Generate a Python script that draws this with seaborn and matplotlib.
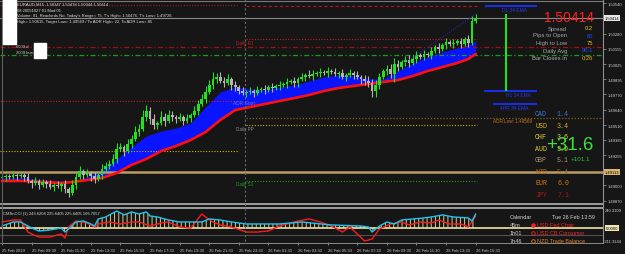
import seaborn as sns
import matplotlib.pyplot as plt
import matplotlib.patches as patches
import numpy as np
import pandas as pd

BG = '#161616'
sns.set_theme(style='dark', rc={'axes.facecolor': BG, 'figure.facecolor': BG})
plt.rcParams['font.family'] = ['Liberation Sans', 'DejaVu Sans']
plt.rcParams['hatch.linewidth'] = 0.7

# ---- M15 candles, 25 Feb 07:30 -> 26 Feb 15:30 ----
first_open = 1.49063
close = [1.49072, 1.49080, 1.49072, 1.49089, 1.49080, 1.49089, 1.49072, 1.49038, 1.49021, 1.49038,
         1.49004, 1.49029, 1.49013, 1.48987, 1.49004, 1.48996, 1.49013, 1.48970, 1.48937, 1.49004,
         1.49072, 1.49122, 1.49089, 1.49106, 1.49080, 1.49055, 1.49089, 1.49139, 1.49165, 1.49181,
         1.49224, 1.49308, 1.49325, 1.49291, 1.49350, 1.49392, 1.49451, 1.49477, 1.49578, 1.49629,
         1.49561, 1.49511, 1.49528, 1.49578, 1.49544, 1.49595, 1.49578, 1.49561, 1.49578, 1.49544,
         1.49570, 1.49595, 1.49629, 1.49688, 1.49730, 1.49789, 1.49848, 1.49899, 1.49916, 1.49882,
         1.49865, 1.49899, 1.49848, 1.49831, 1.49798, 1.49781, 1.49789, 1.49798, 1.49781, 1.49806,
         1.49814, 1.49806, 1.49831, 1.49823, 1.49840, 1.49848, 1.49857, 1.49874, 1.49882, 1.49865,
         1.49899, 1.49916, 1.49933, 1.49924, 1.49941, 1.49949, 1.49958, 1.49949, 1.49966, 1.49958,
         1.49941, 1.49949, 1.49916, 1.49933, 1.49949, 1.49933, 1.49916, 1.49899, 1.49882, 1.49865,
         1.49798, 1.49848, 1.49916, 1.49966, 1.49983, 1.49941, 1.50025, 1.50000, 1.50042, 1.50059,
         1.50034, 1.50068, 1.50101, 1.50085, 1.50110, 1.50101, 1.50135, 1.50169, 1.50152, 1.50186,
         1.50211, 1.50194, 1.50203, 1.50219, 1.50194, 1.50236, 1.50203, 1.50389, 1.50414]
up_wick = [3, 2, 2, 3, 2, 2, 2, 3, 2, 3, 2, 3, 2, 3, 2, 3, 2, 3, 2, 4,
           3, 4, 2, 3, 2, 3, 2, 4, 3, 3,
           4, 5, 3, 2, 4, 3, 5, 4, 6, 5,
           3, 4, 2, 5, 3, 4, 3, 2, 3, 2,
           3, 2, 4, 3, 4, 5, 4, 6, 3, 4,
           3, 4, 2, 3, 2, 3, 2, 3, 2, 3,
           2, 3, 2, 3, 2, 3, 2, 3, 2, 3,
           2, 3, 2, 4, 3, 2, 3, 2, 3, 2,
           3, 2, 3, 2, 3, 2, 3, 2, 3, 4,
           3, 4, 3, 2, 3, 4, 5, 3, 2, 3,
           4, 3, 3, 2, 3, 2, 3, 2, 3, 2,
           3, 2, 3, 2, 3, 2, 3, 4, 3]
dn_wick = [2, 3, 2, 2, 3, 2, 3, 2, 4, 2, 3, 2, 3, 2, 3, 2, 4, 3, 3, 2,
           3, 2, 3, 2, 4, 3, 2, 3, 2, 3,
           2, 3, 2, 4, 2, 3, 2, 3, 2, 3,
           4, 3, 3, 2, 4, 2, 3, 3, 2, 3,
           2, 3, 2, 3, 2, 3, 2, 3, 3, 2,
           3, 2, 4, 3, 3, 2, 3, 2, 3, 2,
           2, 3, 2, 3, 2, 3, 2, 3, 2, 3,
           3, 2, 3, 2, 3, 2, 3, 2, 3, 2,
           2, 3, 2, 3, 2, 3, 2, 4, 3, 3,
           5, 5, 3, 2, 3, 3, 7, 3, 2, 3,
           3, 2, 3, 2, 3, 2, 3, 2, 3, 2,
           3, 2, 3, 2, 3, 2, 3, 2, 2]

# moving average band (blue fill between fast and slow, red slow line)
ma_bars = [0, 6, 11, 16, 19, 23, 27, 31, 35, 39, 43, 47, 51, 55, 59, 63, 67, 71, 75, 79,
           83, 87, 91, 95, 99, 103, 107, 111, 115, 119, 123, 126, 128]
ma_fast = [1.49063, 1.49063, 1.49046, 1.49038, 1.49038, 1.49072, 1.49131, 1.49224, 1.49325, 1.49418,
           1.49460, 1.49485, 1.49528, 1.49662, 1.49789, 1.49831, 1.49814, 1.49806, 1.49831, 1.49848,
           1.49882, 1.49916, 1.49933, 1.49924, 1.49899, 1.49899, 1.49966, 1.50034, 1.50085, 1.50127,
           1.50160, 1.50186, 1.50219]
ma_slow = [1.49038, 1.49038, 1.49029, 1.49021, 1.49029, 1.49046, 1.49063, 1.49106, 1.49173, 1.49224,
           1.49291, 1.49333, 1.49384, 1.49451, 1.49553, 1.49637, 1.49662, 1.49688, 1.49713, 1.49738,
           1.49764, 1.49798, 1.49823, 1.49840, 1.49857, 1.49874, 1.49890, 1.49924, 1.49966, 1.50000,
           1.50034, 1.50068, 1.50110]

# pivot / ADR levels
bid = 1.50414
prev_r2, r2 = 1.50523, 1.50515
r1 = 1.50236
red_level, green_level = 1.50169, 1.50101
prev_r1 = 1.49713
adr_low = 1.49570
pp, prev_pp = 1.49511, 1.49291
tan_level = 1.49114
s1 = 1.49038
ema_d1, ema_h1, ema_h4 = 1.50515, 1.49798, 1.49688
trend_bars = [109, 128]
trend_price = [1.50034, 1.50447]

price_ticks = [1.50540, 1.50280, 1.50155, 1.50025, 1.49895, 1.49770, 1.49640, 1.49510,
               1.49385, 1.49255, 1.49000, 1.48870]

# CCI sub-window
cci_bars = [0, 3, 5, 7, 8, 10, 13, 16, 17, 18, 20, 22, 24, 25, 26, 28, 31, 33, 35, 37, 39, 40, 42, 44,
            45, 48, 52, 54, 56, 59, 62, 66, 70, 75, 81, 89, 97, 99, 100, 102, 104, 106, 108, 111,
            114, 116, 119, 122, 126, 127, 128]
cci_main = [25, 76, 76, 25, 0, -38, -25, 0, -51, -13, 76, 89, 51, 25, 114, 139, 215, 165, 203, 177,
            203, 152, 139, 114, 101, 76, 76, 76, 114, 101, 76, 51, 51, 51, 76, 38, 25, 13, -51, 25,
            76, 51, 101, 114, 127, 139, 165, 139, 127, 89, 177]
sig_bars = [0, 3, 5, 7, 8, 10, 13, 16, 17, 18, 20, 23, 25, 26, 29, 32, 35, 37, 40, 43, 45, 48, 51,
            54, 55, 57, 59, 62, 66, 69, 72, 75, 80, 83, 86, 89, 92, 94, 96, 98, 100, 102, 105, 108,
            110, 113, 116, 118, 121, 124, 126, 128]
cci_sig = [76, 101, 101, -51, -76, -114, -114, -76, -127, 13, 89, 63, 13, 51, 76, 51, 76, 76, 25, 63,
           76, 13, 0, 177, 139, 76, 38, 13, -51, -51, -38, 25, 89, 114, 76, 25, -51, 13, -76, -165,
           -139, -13, 51, 76, 38, 76, 63, 101, 51, 51, 13, 152]

time_bars = list(range(0, 129, 8))
time_labels = ['25 Feb 2019', '25 Feb 09:30', '25 Feb 11:30', '25 Feb 13:30', '25 Feb 15:30',
               '25 Feb 17:30', '25 Feb 19:30', '25 Feb 21:30', '25 Feb 23:30', '26 Feb 01:30',
               '26 Feb 03:30', '26 Feb 05:30', '26 Feb 07:30', '26 Feb 09:30', '26 Feb 11:30',
               '26 Feb 13:30', '26 Feb 15:30']

df = pd.DataFrame({'close': close, 'up': up_wick, 'dn': dn_wick})
df['open'] = [first_open] + close[:-1]
df['high'] = df[['open', 'close']].max(axis=1) + df['up'] / 10000
df['low'] = df[['open', 'close']].min(axis=1) - df['dn'] / 10000
df['bar'] = np.arange(len(df))

W, H = 625, 255
def frac(x0, y0, x1, y1):
    return [x0 / W, 1 - y1 / H, (x1 - x0) / W, (y1 - y0) / H]

fig = plt.figure(figsize=(6.25, 2.55), dpi=100)
ax = fig.add_axes(frac(0, 0, 603, 203))
ax2 = fig.add_axes(frac(0, 210, 603, 243))
ov = fig.add_axes([0, 0, 1, 1], zorder=10)
ov.set_xlim(0, W)
ov.set_ylim(H, 0)
ov.axis('off')

XL = (-0.54, 162.4)

# ---- main chart ----
ax.set_facecolor(BG)
ax.fill_between(ma_bars, ma_slow, ma_fast, color='#0a14ff', lw=0, zorder=1)
sns.lineplot(x=ma_bars, y=ma_slow, color='#ff1010', lw=1.9, ax=ax, zorder=3, sort=False)

up = df['close'] >= df['open']
for mask, col in [(up, '#22e022'), (~up, '#b4b4b4')]:
    d = df[mask]
    ax.vlines(d['bar'], d['low'], d['high'], color=col, lw=0.8, zorder=4)
    h = (d['close'] - d['open']).abs().clip(lower=0.00002)
    ax.bar(d['bar'], h, bottom=d[['open', 'close']].min(axis=1), width=0.74,
           color=col, lw=0, zorder=5)

dot = (0, (1, 1.5))
ax.hlines(prev_r2, XL[0], 63.8, color='#b01818', lw=0.8, ls=dot, zorder=2)
ax.hlines(r2, 65.8, 128.3, color='#b01818', lw=0.8, ls=(0, (3, 2)), zorder=2)
ax.axhline(bid, color='#8a8a8a', lw=0.8, zorder=2)
ax.hlines(r1, 65.8, 128.3, color='#c81c1c', lw=0.8, ls=dot, zorder=2)
ax.axhline(red_level, color='#a01010', lw=0.9, ls=(0, (4, 2, 1, 2)), zorder=2)
ax.axhline(green_level, color='#1c9a1c', lw=0.9, ls=(0, (4, 2, 1, 2)), zorder=2)
ax.hlines(prev_r1, XL[0], 63.8, color='#c81c1c', lw=0.8, ls=dot, zorder=2)
ax.hlines(adr_low, 65.8, XL[1], color='#8a5a24', lw=0.9, ls=dot, zorder=2)
ax.hlines(pp, 65.8, 128.3, color='#c8b400', lw=0.8, ls=dot, zorder=2)
ax.hlines(prev_pp, XL[0], 63.8, color='#c8b400', lw=0.8, ls=dot, zorder=2)
ax.axhline(tan_level, color='#b89c64', lw=1.8, zorder=2)
ax.hlines(s1, 65.8, 128.3, color='#1c9a1c', lw=0.8, ls=dot, zorder=2)
ax.plot(trend_bars, trend_price, color='#2030d0', lw=0.7, ls=(0, (1, 1.5)), zorder=6)

ax.hlines(ema_d1, 130.5, 144.6, color='#1830ff', lw=1.3, zorder=2)
ax.hlines(ema_h1, 130.3, 144.6, color='#1830ff', lw=1.3, zorder=2)
ax.hlines(ema_h4, 132.7, 144.6, color='#1830ff', lw=1.3, zorder=2)
ax.vlines(136.2, ema_h1, 1.50447, color='#20e020', lw=1.5, zorder=3)

ax.set_xlim(*XL)
ax.set_ylim(1.50574 - 203 * 0.0000844, 1.50574)
for s in ax.spines.values():
    s.set_visible(False)
ax.set_xticks([])
ax.set_yticks(price_ticks)
ax.set_yticklabels(['%.5f' % p for p in price_ticks])
ax.tick_params(axis='y', left=False, right=True, labelleft=False, labelright=True,
               length=2, width=0.5, color='#a0a0a0', labelsize=3, labelcolor='#d0d0d0', pad=1.5)
ax.set_xlabel('')
ax.set_ylabel('')

# ---- CCI window ----
ax2.set_facecolor(BG)
ax2.fill_between(cci_bars, 0, cci_main, facecolor='none', edgecolor='#d8c890',
                 hatch='||||', lw=0, zorder=1)
ax2.axhline(0, color='#f0e4a8', lw=1.2, zorder=2)
ax2.axhline(-89, color='#505050', lw=0.8, zorder=1)
sns.lineplot(x=sig_bars, y=cci_sig, color='#ff1a1a', lw=1.0, ax=ax2, zorder=3, sort=False)
sns.lineplot(x=cci_bars, y=cci_main, color='#1ec4f0', lw=1.0, ax=ax2, zorder=4, sort=False)
ax2.set_xlim(*XL)
ax2.set_ylim(-177, 240)
for s in ax2.spines.values():
    s.set_visible(False)
ax2.set_yticks([])
ax2.set_xticks(time_bars)
ax2.set_xticklabels(time_labels, ha='left')
ax2.tick_params(axis='x', bottom=True, length=2, width=0.5, color='#a0a0a0',
                labelsize=3, labelcolor='#c8c8c8', pad=2)
ax2.set_xlabel('')
ax2.set_ylabel('')

# ---- frame lines & overlays (pixel space) ----
ov.plot([0, 603], [2, 2], color='#7a7a7a', lw=0.8)
ov.plot([0, 603], [205, 205], color='#a8a8a8', lw=1.3)
ov.plot([0, 603], [208.5, 208.5], color='#a8a8a8', lw=1.3)
ov.plot([0, 603], [244, 244], color='#8a8a8a', lw=0.7)
ov.plot([603, 603], [0, 244], color='#909090', lw=0.8)
ov.plot([2, 2], [0, 244], color='#606060', lw=0.8)
ov.plot([245, 245], [0, 244], color='#6a6a6a', lw=0.8, ls=(0, (2, 2)))

def t(x, y, s, c, fs, **kw):
    ov.text(x, y, s, color=c, fontsize=fs, va='center', **kw)

# top-left info
t(17, 5, 'EURAUD,M15  1.50347 1.50478 1.50344 1.50414', '#e0e0e0', 3)
t(17, 11, '08 20051027 01 Mod 01', '#e0e0e0', 3)
t(17, 16, "Volume: 91, Reacheds No, Today's Range= 75, T's High= 1.50476, T's Low= 1.49726", '#e0e0e0', 3)
t(17, 22, 'High= 1.50615, Target Low= 1.49569 / To ADR High= 22, To ADR Low= 85', '#e0e0e0', 3)
t(16, 47, '0009 d', '#c8c8c8', 3)
t(16, 53, '2009 bun', '#c8c8c8', 3)
ov.add_patch(patches.Rectangle((3, 0), 13, 45, color='white', zorder=5))
ov.add_patch(patches.Rectangle((34, 44), 12, 15, color='white', zorder=5))

# level labels
t(236, 44, 'Daily R1', '#c02020', 3.3)
t(233, 104, 'ADR Start', '#6a78b0', 3.5)
t(236, 130, 'Daily PP', '#909090', 3.3)
t(236, 185, 'Daily S1', '#20a020', 3.3)
t(493, 122, 'ADR Low: 1.49569', '#c87818', 3.3)
t(502, 10.5, 'D1 34 EMA', '#2838f0', 3.5)
t(506, 95.5, 'H1 34 EMA', '#2838f0', 3.5)
t(500, 109, '4HR 34 EMA', '#2838f0', 3.5)

# right info block
t(594, 18, '1.50414', '#ff2020', 10, ha='right')
info = [('Spread', '0.2', '#e8c800'), ('Pips to Open', '65', '#2848ff'),
        ('High to Low', '75', '#e8c800'), ('Daily Avg', '90.1', '#2848ff'),
        ('Bar Closes in', '0:26', '#e0b000')]
for k, (lab, val, col) in enumerate(info):
    yy = [29, 36, 43.5, 51, 58][k]
    t(567, yy, lab, '#a8a8a8', 4.2, ha='right')
    t(593, yy, val, col, 4.2, ha='right')

# currency strength list; the big "+31.6" sits over it as in the source
ccy = [('CAD', '1.4', '#3a78c8'), ('USD', '3.4', '#d8b030'), ('CHF', '3.6', '#e0d840'),
       ('AUD', '3.9', '#d8d030'), ('GBP', '5.1', '#b09070'), ('NZD', '5.4', '#a86818'),
       ('EUR', '6.0', '#d07818'), ('JPY', '7.1', '#b01818')]
for k, (c, v, col) in enumerate(ccy):
    yy = 115 + k * 11.5
    t(535, yy, c, col, 4.8, family='Liberation Mono')
    t(557, yy, v, col, 4.8, family='Liberation Mono')
t(546, 145.5, '+31.6', '#3ee03e', 13.5)
t(571, 160, '+101.1', '#30c030', 4.5)

# price axis highlighted labels
t(605, 19, '1.50414', '#000000', 3, bbox=dict(fc='#e8e8e8', ec='none', pad=0.6))
t(605, 173, '1.49113', '#000000', 3, bbox=dict(fc='#d8b870', ec='none', pad=0.6))
t(605, 211.5, '240.3109', '#d0d0d0', 3)
t(606, 229, '0.0000', '#000000', 3, bbox=dict(fc='#f0e8b0', ec='none', pad=0.6))
t(604, 242, '-211.3144', '#d0d0d0', 3)

# CCI title and calendar
t(3, 214, 'CMSnCCI (1) 243.6204 225.6405 225.6405 166.7057', '#d8d8d8', 3)
t(510, 218, 'Calendar', '#d0d0d0', 4)
t(552, 218, 'Tue 26 Feb 13:59', '#d0d0d0', 4)
cal = [('45m', 'USD Fed Chair', '#ff2020'), ('1h01', 'USD CB Consumer', '#ff2020'),
       ('7h46', 'NZD Trade Balance', '#e08020')]
for k, (tm, ev, col) in enumerate(cal):
    yy = 226 + k * 8
    t(510, yy, tm, '#d0d0d0', 4)
    ov.plot(533, yy, 'o', ms=2.6, mfc=col if k == 0 else 'none', mec=col, mew=0.6)
    t(537, yy, ev, col, 4)

fig.savefig('out.png', dpi=100, facecolor=BG)
